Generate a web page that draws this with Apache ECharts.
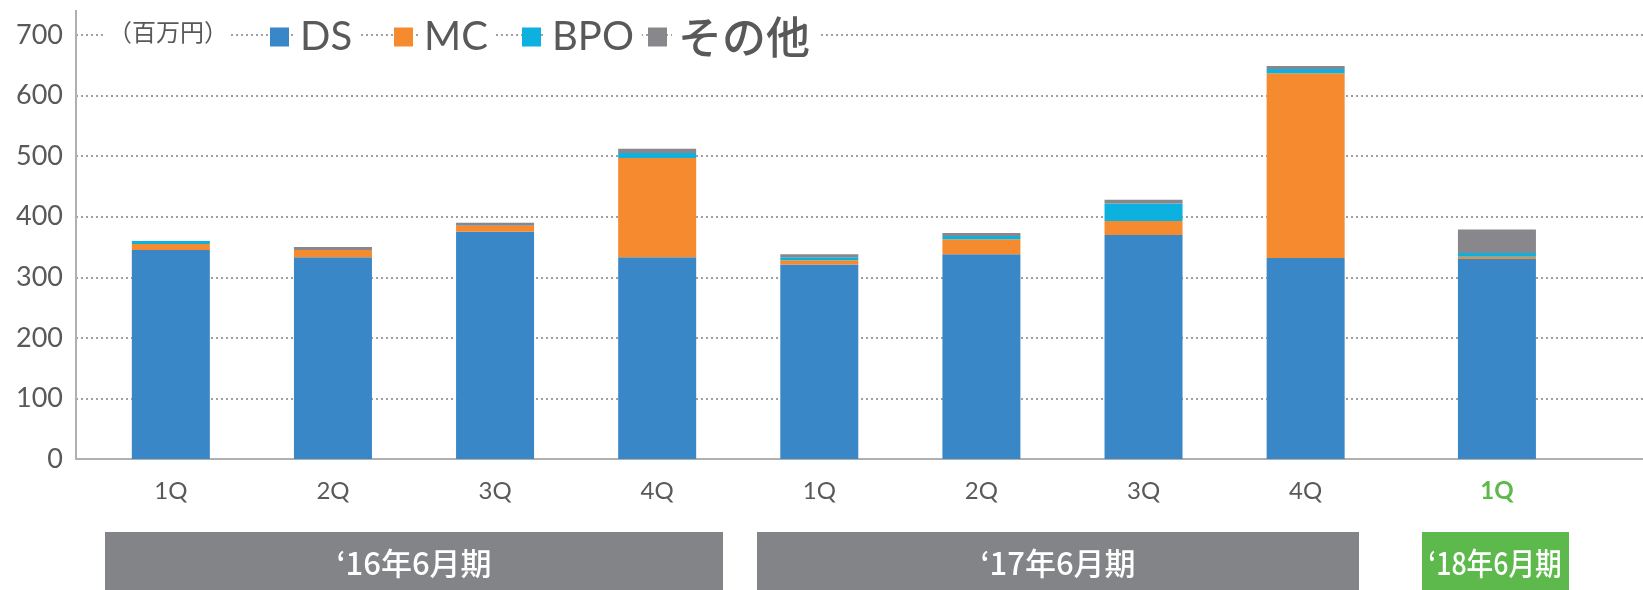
<!DOCTYPE html>
<html>
<head>
<meta charset="utf-8">
<script src="https://cdn.jsdelivr.net/npm/echarts@6.0.0/dist/echarts.min.js"></script>
<style>
  html, body { margin: 0; padding: 0; background: #fff; }
  #main { width: 1643px; height: 590px; }
</style>
</head>
<body>
<div id="main"></div>
<script>
// quarters and their positions on the x scale (last one is set apart a little)
var quarters = ['1Q', '2Q', '3Q', '4Q', '1Q', '2Q', '3Q', '4Q', '1Q']
var xPos = [0, 1, 2, 3, 4, 5, 6, 7, 8.18]
var periods = ['‘16年6月期', '‘17年6月期', '‘18年6月期']

// 百万円
var ds = [345, 333, 375, 333, 321, 338, 370, 332, 330]
var mc = [10, 12, 10, 164, 7, 25, 23, 305, 4]
var bpo = [5, 0, 0, 8, 5, 5, 29, 7, 6]
var other = [0, 5, 5, 7, 5, 5, 6, 5, 39]

var txt = '#595959'
var green = '#5db94b'
var font = 'Lato, "Noto Sans CJK JP", sans-serif'

// value first so that the stack is done on y
function pts(arr) {
  return arr.map(function(v, i) { return [v, xPos[i]] })
}

function bar(name, arr, color) {
  return {
    name: name,
    type: 'bar',
    stack: 'total',
    barWidth: 78,
    encode: { x: 1, y: 0 },
    itemStyle: { color: color },
    data: pts(arr)
  }
}

function oneLegend(name, left, label) {
  return {
    data: [name],
    left: left,
    top: 15,
    padding: 0,
    icon: 'rect',
    itemWidth: 19,
    itemHeight: 19,
    selectedMode: false,
    formatter: label ? function() { return label } : '{name}',
    textStyle: {
      fontFamily: font,
      fontSize: 40,
      lineHeight: 44,
      color: txt,
      backgroundColor: '#fff',
      padding: [0, 8, 0, 6],
      rich: {
        cjk: { fontFamily: '"Noto Sans CJK JP"', fontSize: 44, fontWeight: 500, color: txt, lineHeight: 44 }
      }
    }
  }
}

var myChart = echarts.init(document.getElementById('main'))
var option = {
  animation: false,
  legend: [
    oneLegend('DS', 270),
    oneLegend('MC', 394),
    oneLegend('BPO', 522),
    oneLegend('その他', 648, '{cjk|その他}')
  ],
  grid: { left: 76, right: 0, top: 35, bottom: 131 },
  xAxis: {
    type: 'value',
    min: -0.585,
    max: 9.081,
    splitLine: { show: false },
    axisTick: { show: false },
    axisLine: { show: true, onZero: false, lineStyle: { color: '#b0b0b0', width: 2 } },
    axisLabel: {
      customValues: xPos,
      margin: 20,
      fontFamily: font,
      fontSize: 24,
      color: txt,
      formatter: function(v) {
        var i = xPos.indexOf(v)
        if (i < 0) return ''
        return i === xPos.length - 1 ? '{hl|' + quarters[i] + '}' : quarters[i]
      },
      rich: {
        hl: { fontFamily: font, fontSize: 24, fontWeight: 'bold', color: green }
      }
    }
  },
  yAxis: {
    type: 'value',
    min: 0,
    max: 700,
    interval: 100,
    axisLine: { show: true, onZero: false, lineStyle: { color: '#b0b0b0', width: 2 } },
    axisTick: { show: false },
    axisLabel: { margin: 13, fontFamily: font, fontSize: 27, color: txt },
    splitLine: { lineStyle: { color: '#a0a0a0', width: 2, type: [2, 3] } }
  },
  graphic: [
    { type: 'line', shape: { x1: 76, y1: 10, x2: 76, y2: 35 }, style: { stroke: '#b0b0b0', lineWidth: 2 }, z: 50 },
    {
      type: 'text', left: 105, top: 19, z: 100,
      style: { text: '（百万円）', fontFamily: '"Noto Sans CJK JP"', fontSize: 24, fill: txt, backgroundColor: '#fff', padding: [1, 3] }
    },
    { type: 'rect', shape: { x: 105, y: 532, width: 618, height: 58 }, style: { fill: '#838488' } },
    { type: 'rect', shape: { x: 757, y: 532, width: 602, height: 58 }, style: { fill: '#838488' } },
    { type: 'rect', shape: { x: 1422, y: 532, width: 147, height: 58 }, style: { fill: green } },
    {
      type: 'text', x: 414, y: 563,
      style: { text: periods[0], fontFamily: '"Noto Sans CJK JP"', fontSize: 31, fontWeight: 500, fill: '#fff', align: 'center', verticalAlign: 'middle' }
    },
    {
      type: 'text', x: 1058, y: 563,
      style: { text: periods[1], fontFamily: '"Noto Sans CJK JP"', fontSize: 31, fontWeight: 500, fill: '#fff', align: 'center', verticalAlign: 'middle' }
    },
    {
      type: 'text', x: 1495, y: 563, scaleX: 0.86,
      style: { text: periods[2], fontFamily: '"Noto Sans CJK JP"', fontSize: 31, fontWeight: 500, fill: '#fff', align: 'center', verticalAlign: 'middle' }
    }
  ],
  series: [
    bar('DS', ds, '#3a87c8'),
    bar('MC', mc, '#f58a2f'),
    bar('BPO', bpo, '#0db1e0'),
    bar('その他', other, '#88888c')
  ]
}
myChart.setOption(option)
</script>
</body>
</html>
